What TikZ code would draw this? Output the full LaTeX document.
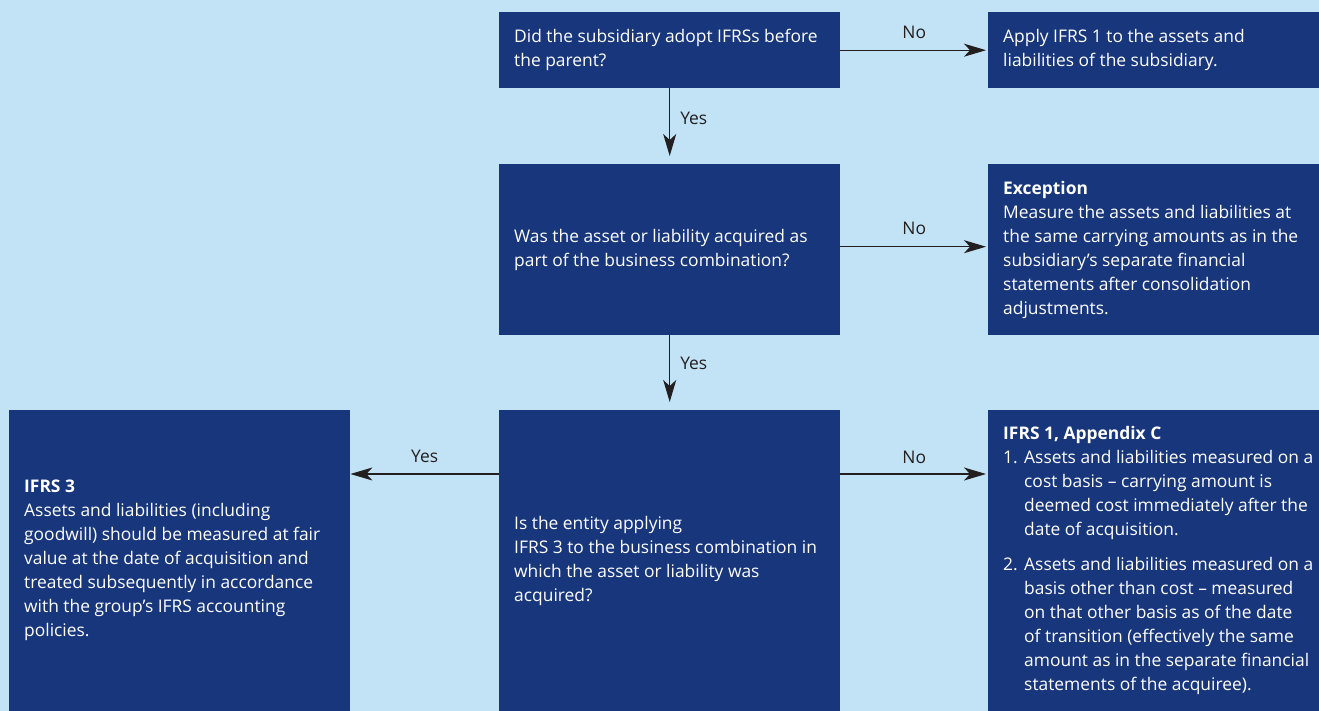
\documentclass[tikz,border=0pt]{standalone}
\usepackage{fontspec}
\setmainfont{Open Sans}
\usetikzlibrary{arrows.meta}
\definecolor{bg}{RGB}{194,227,245}
\definecolor{boxblue}{RGB}{23,54,124}
\definecolor{ink}{RGB}{35,31,32}
\begin{document}
\begin{tikzpicture}[x=1pt,y=-1pt,
  box/.style={fill=boxblue, draw=none, anchor=north west, inner sep=0pt},
  txt/.style={text=white, font=\fontsize{17.4}{24}\selectfont, align=left, anchor=west, inner sep=0pt},
  lbl/.style={text=ink, font=\fontsize{17.4}{20}\selectfont, inner sep=0pt},
  arr/.style={draw=ink, line width=1.2pt, -{Stealth[length=22pt,width=13pt,inset=6pt]}}]
% background and bounding box
\fill[bg] (0,0) rectangle (1319,711);
\useasboundingbox (0,0) rectangle (1319,711);
\coordinate (ylev) at (0,474);

% boxes
\node[box, minimum width=341pt, minimum height=76pt]  (qa) at (499,12) {};
\node[box, minimum width=331pt, minimum height=76pt]  (ra) at (988,12) {};
\node[box, minimum width=341pt, minimum height=171pt] (qc) at (499,164) {};
\node[box, minimum width=331pt, minimum height=171pt] (rd) at (988,164) {};
\node[box, minimum width=341pt, minimum height=301pt] (qe) at (499,410) {};
\node[box, minimum width=341pt, minimum height=301pt] (rf) at (9,410) {};
\node[box, minimum width=331pt, minimum height=301pt] (rg) at (988,410) {};

% box texts
\node[txt] (ta) at ([xshift=15pt]qa.west) {Did the subsidiary adopt IFRSs before\\the parent?};
\node[txt] (tra) at ([xshift=15pt]ra.west) {Apply IFRS 1 to the assets and\\liabilities of the subsidiary.};
\node[txt] (tc) at ([xshift=15pt]qc.west) {Was the asset or liability acquired as\\part of the business combination?};
\node[txt] (trd) at ([xshift=15pt]rd.west) {\textbf{Exception}\\Measure the assets and liabilities at\\the same carrying amounts as in the\\subsidiary’s separate financial\\statements after consolidation\\adjustments.};
\node[txt] (te) at ([xshift=15pt]qe.west) {Is the entity applying\\IFRS 3 to the business combination in\\which the asset or liability was\\acquired?};
\node[txt] (trf) at ([xshift=15pt]rf.west) {\textbf{IFRS 3}\\Assets and liabilities (including\\goodwill) should be measured at fair\\value at the date of acquisition and\\treated subsequently in accordance\\with the group’s IFRS accounting\\policies.};
\node[txt] (trg) at ([xshift=15pt]rg.west) {\textbf{IFRS 1, Appendix C}\\
\makebox[21pt][l]{1.}Assets and liabilities measured on a\\
\hspace*{21pt}cost basis – carrying amount is\\
\hspace*{21pt}deemed cost immediately after the\\
\hspace*{21pt}date of acquisition.\\[11pt]
\makebox[21pt][l]{2.}Assets and liabilities measured on a\\
\hspace*{21pt}basis other than cost – measured\\
\hspace*{21pt}on that other basis as of the date\\
\hspace*{21pt}of transition (effectively the same\\
\hspace*{21pt}amount as in the separate financial\\
\hspace*{21pt}statements of the acquiree).};

% connectors
\draw[arr, shorten >=2pt] (qa.east) -- (ra.west)
  node[lbl, midway, yshift=18pt] (la) {No};
\draw[arr, shorten >=8pt] (qa.south) -- (qc.north)
  node[lbl, pos=0.39, anchor=west, xshift=10pt] (lb) {Yes};
\draw[arr, shorten >=2pt] ([yshift=3pt]qc.east) -- ([yshift=3pt]rd.west)
  node[lbl, midway, yshift=18pt] (lc) {No};
\draw[arr, shorten >=8pt] (qc.south) -- (qe.north)
  node[lbl, pos=0.37, anchor=west, xshift=10pt] (ld) {Yes};
\draw[arr] (qe.west |- ylev) -- (rf.east |- ylev)
  node[lbl, midway, yshift=18pt] (le) {Yes};
\draw[arr, shorten >=2pt] (qe.east |- ylev) -- (rg.west |- ylev)
  node[lbl, midway, yshift=17pt] (lf) {No};
\end{tikzpicture}
\end{document}
